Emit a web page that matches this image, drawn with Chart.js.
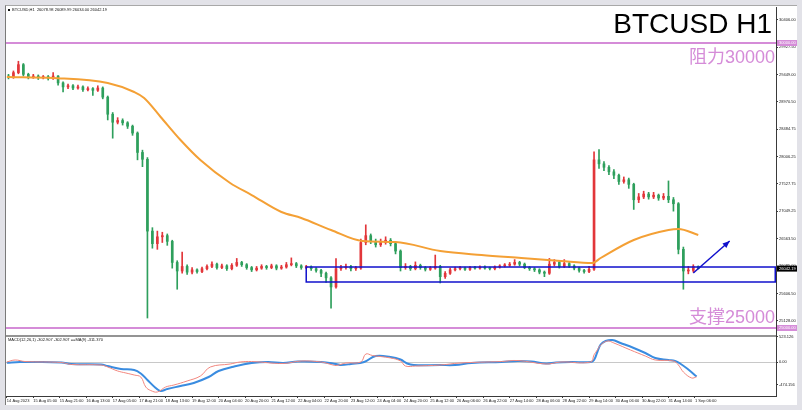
<!DOCTYPE html>
<html>
<head>
<meta charset="utf-8">
<title>BTCUSD H1</title>
<script src="https://cdn.jsdelivr.net/npm/chart.js@4.4.0/dist/chart.umd.min.js"></script>
<style>
  html, body { margin: 0; padding: 0; }
  body { width: 802px; height: 410px; background: #e2e2e8; position: relative; overflow: hidden; }
  #frame { position: absolute; left: 5px; top: 5px; width: 791px; height: 399px; background: #fff;
           border-left: 1px solid #7a7a7a; border-top: 1px solid #a8a8a8; }
  #btcChart { position: absolute; left: 0; top: 0; }
</style>
</head>
<body>
<div id="frame"></div>
<canvas id="btcChart" width="802" height="410"></canvas>
<script>
/* ==========================================================
   BTCUSD H1 – candles, MA, MACD pane, support / resistance
========================================================== */

/* ---------- candles (3h buckets) ---------- */
const opens = [
  29420, 29400, 29480, 29620, 29450, 29400, 29420, 29390, 29410, 29380,
  29420, 29300, 29230, 29250, 29210, 29230, 29180, 29200, 29170, 29210,
  29050, 28750, 28610, 28640, 28600, 28540, 28420, 28080, 27960, 26700,
  26480, 26600, 26620, 26520, 26150, 26000, 26080, 25980, 26020, 25990,
  26040, 26080, 26120, 26060, 26090, 26040, 26100, 26150, 26110, 26060,
  26020, 26050, 26080, 26060, 26090, 26050, 26070, 26110, 26130, 26090,
  26060, 26070, 26040, 26010, 25960, 25880, 25720, 26040, 26060, 26080,
  26040, 26050, 26500, 26620, 26520, 26460, 26500, 26540, 26480, 26350,
  26060, 26080, 26040, 26100, 26060, 26030, 26050, 26080, 25900, 25960,
  26020, 26040, 26050, 26030, 26060, 26050, 26070, 26050, 26040, 26070,
  26090, 26100, 26120, 26150, 26120, 26060, 26040, 26020, 25980, 25960,
  26120, 26150, 26080, 26130, 26090, 26050, 26010, 25990, 26030, 27950,
  27880, 27820, 27740, 27680, 27570, 27600, 27520, 27250, 27300, 27350,
  27300, 27330, 27280, 27310, 27250, 27180, 26380, 26000, 26010, 26078.98
];
const highs = [
  29450, 29510, 29680, 29640, 29470, 29450, 29440, 29430, 29430, 29480,
  29430, 29320, 29280, 29270, 29260, 29250, 29230, 29220, 29250, 29230,
  29070, 28780, 28690, 28670, 28620, 28560, 28440, 28120, 27990, 26760,
  26700, 26680, 26650, 26540, 26180, 26330, 26110, 26060, 26040, 26070,
  26110, 26160, 26140, 26120, 26110, 26130, 26220, 26170, 26130, 26080,
  26080, 26110, 26100, 26120, 26110, 26100, 26150, 26230, 26150, 26110,
  26100, 26090, 26060, 26030, 25980, 25900, 26220, 26100, 26120, 26100,
  26080, 26560, 26810, 26650, 26560, 26560, 26600, 26570, 26500, 26370,
  26130, 26100, 26160, 26120, 26080, 26080, 26280, 26100, 25990, 26050,
  26070, 26080, 26070, 26080, 26080, 26090, 26090, 26070, 26090, 26110,
  26130, 26150, 26200, 26170, 26140, 26080, 26060, 26040, 26000, 26220,
  26200, 26170, 26200, 26150, 26110, 26070, 26030, 26080, 28090, 28130,
  27920, 27850, 27780, 27700, 27650, 27630, 27540, 27360, 27400, 27380,
  27380, 27350, 27360, 27580, 27290, 27200, 26420, 26080, 26110, 26089.99
];
const lows = [
  29370, 29380, 29460, 29420, 29370, 29380, 29360, 29370, 29350, 29360,
  29260, 29140, 29200, 29180, 29190, 29150, 29160, 29080, 29150, 29020,
  28650, 28330, 28580, 28560, 28500, 28380, 27950, 27830, 25175, 26400,
  26380, 26500, 26450, 26050, 25680, 25960, 25940, 25950, 25960, 25970,
  26020, 26060, 26030, 26040, 26010, 26020, 26080, 26080, 26030, 25990,
  26000, 26030, 26030, 26040, 26020, 26030, 26050, 26090, 26060, 26030,
  26040, 26010, 25980, 25900, 25800, 25350, 25700, 26010, 26030, 26000,
  26010, 26030, 26460, 26480, 26420, 26430, 26470, 26440, 26300, 26000,
  26030, 26010, 26020, 26030, 26000, 26010, 26030, 25790, 25870, 25940,
  26000, 26020, 26010, 26010, 26030, 26030, 26030, 26020, 26020, 26050,
  26070, 26080, 26100, 26090, 26040, 26010, 25990, 25950, 25900, 25940,
  26090, 26050, 26060, 26060, 26020, 25980, 25960, 25970, 26010, 27800,
  27760, 27690, 27620, 27520, 27540, 27450, 27080, 27200, 27270, 27260,
  27270, 27240, 27250, 27200, 27050, 26300, 25680, 25950, 25980, 26034.00
];
const closes = [
  29400, 29480, 29620, 29450, 29400, 29420, 29390, 29410, 29380, 29420,
  29300, 29230, 29250, 29210, 29230, 29180, 29200, 29170, 29210, 29050,
  28750, 28610, 28640, 28600, 28540, 28420, 28080, 27960, 26700, 26480,
  26600, 26620, 26520, 26150, 26000, 26080, 25980, 26020, 25990, 26040,
  26080, 26120, 26060, 26090, 26040, 26100, 26150, 26110, 26060, 26020,
  26050, 26080, 26060, 26090, 26050, 26070, 26110, 26130, 26090, 26060,
  26070, 26040, 26010, 25960, 25880, 25720, 26040, 26060, 26080, 26040,
  26050, 26500, 26620, 26520, 26460, 26500, 26540, 26480, 26350, 26060,
  26080, 26040, 26100, 26060, 26030, 26050, 26080, 25900, 25960, 26020,
  26040, 26050, 26030, 26060, 26050, 26070, 26050, 26040, 26070, 26090,
  26100, 26120, 26150, 26120, 26060, 26040, 26020, 25980, 25960, 26120,
  26150, 26080, 26130, 26090, 26050, 26010, 25990, 26030, 27950, 27880,
  27820, 27740, 27680, 27570, 27600, 27520, 27250, 27300, 27350, 27300,
  27330, 27280, 27310, 27250, 27180, 26380, 26000, 26010, 26079, 26042.19
];
const CANDLE_STEP = 3;                       // H1 bars per drawn candle
const candleHour  = closes.map((_, i) => i * CANDLE_STEP + 1);

/* ---------- moving average (orange) ---------- */
const maHours  = [0, 28, 61, 77, 83, 93, 105, 117, 135, 148, 166, 178, 196,
                  215, 235, 262, 287, 311, 335, 354, 359, 379, 400, 406, 418];
const maValues = [29404, 29386, 29298, 29140, 29035, 28702, 28298, 27947, 27544,
                  27333, 27035, 26930, 26719, 26526, 26509, 26351, 26281, 26228,
                  26175, 26140, 26228, 26544, 26719, 26737, 26632];

/* ---------- MACD pane ---------- */
const macdHours  = [0, 8, 16, 33, 39, 57, 61, 69, 77, 81, 85, 90, 93, 97, 105, 113,
                    122, 128, 137, 148, 158, 167, 176, 190, 199, 202, 208, 216, 223,
                    232, 238, 242, 246, 262, 271, 281, 299, 309, 317, 326, 332, 341,
                    353, 355, 357, 359, 362, 366, 371, 379, 386, 392, 400, 404, 407,
                    412, 417];
const macdValues = [-15, 0, 0, -10, -42, -52, -84, -146, -167, -240, -376, -543, -606,
                    -564, -502, -439, -314, -188, -98, -21, 0, -21, 10, 0, -42, -63,
                    -42, 0, 125, 105, 52, -31, -63, -63, -63, -21, 0, 21, 10, -31, -10,
                    0, 0, 42, 209, 366, 439, 460, 397, 293, 188, 84, 42, 21, -31, -157,
                    -303];
const sigHours   = [0, 5, 11, 33, 39, 57, 61, 67, 72, 77, 81, 84, 87, 91, 96, 101, 109,
                    117, 123, 135, 141, 148, 167, 178, 190, 196, 199, 205, 214, 217, 221,
                    232, 238, 241, 247, 262, 274, 299, 309, 326, 335, 353, 355, 357, 359,
                    363, 367, 377, 386, 392, 403, 406, 409, 414, 417];
const sigValues  = [0, 42, 10, -10, -52, -63, -105, -188, -230, -272, -314, -523, -596,
                    -627, -523, -481, -397, -293, -105, -42, 0, 10, -31, 21, 0, -52, -73,
                    -21, 0, 167, 136, 84, 21, -84, -84, -63, -21, 10, 31, -42, 0, 0, 150,
                    251, 355, 439, 397, 251, 125, 42, 21, -63, -209, -334, -311];

/* ---------- axes ---------- */
const xTickLabels = ['14 Aug 2023', '15 Aug 05:00', '15 Aug 21:00', '16 Aug 13:00',
  '17 Aug 05:00', '17 Aug 21:00', '18 Aug 13:00', '19 Aug 12:00', '20 Aug 04:00',
  '20 Aug 20:00', '21 Aug 12:00', '22 Aug 04:00', '22 Aug 20:00', '23 Aug 12:00',
  '24 Aug 04:00', '24 Aug 20:00', '25 Aug 12:00', '26 Aug 06:00', '26 Aug 22:00',
  '27 Aug 14:00', '28 Aug 06:00', '28 Aug 22:00', '29 Aug 14:00', '30 Aug 06:00',
  '30 Aug 22:00', '31 Aug 14:00', '1 Sep 06:00'];
const xTickHours  = xTickLabels.map((_, i) => i * 16);
const priceTicks  = [30406.00, 30166.75, 29927.50, 29688.25, 29449.00, 29209.75,
  28970.50, 28731.25, 28484.75, 28245.00, 28006.25, 27767.00, 27527.75, 27288.50,
  27049.25, 26810.00, 26563.50, 26324.25, 26085.00, 25845.75, 25606.50, 25367.25,
  25128.00, 24888.75];
const macdTicks   = [523.126, 0, -474.156];

const PRICE_RANGE = [24859.6, 30631.6];
const MACD_RANGE  = [-710.6, 543.4];
const HOUR_RANGE  = [-0.5, 465];

/* ---------- annotations ---------- */
const levelValues = [30000, 25000];
const levelTexts  = ['阻力30000', '支撑25000'];
const zoneFrom    = 181;                 // hour where the box starts
const zoneTop     = 26070;
const zoneBottom  = 25807;
const arrowFrom   = [415, 25965];
const arrowTo     = [437, 26526];
const lastPrice   = 26042.19;
const infoText    = 'BTCUSD,H1  26078.98 26089.99 26034.00 26042.19';
const macdText    = 'MACD(12,26,1) -302.907 -302.907 ==MA(9) -311.370';

/* ---------- colours ---------- */
const COLORS = {
  up     : '#e2363a',
  down   : '#2e9f5c',
  ma     : '#f4a035',
  macd   : '#3a8ce0',
  signal : '#f2877f',
  level  : '#d58cd8',
  zone   : '#1010cc',
  axis   : '#3a3a3a'
};
const AXIS_FONT = { family: '"Liberation Sans", Arial, sans-serif', size: 4 };
const candleColor = i => (closes[i] >= opens[i] ? COLORS.up : COLORS.down);

/* ---------- overlay: levels, box, arrow, texts, price tags ---------- */
const overlay = {
  id: 'overlay',
  afterDatasetsDraw (chart) {
    const { ctx, chartArea: a, scales: { x, y, yMacd } } = chart;

    ctx.save();
    ctx.beginPath();
    ctx.rect(a.left, y.top, a.right - a.left, y.bottom - y.top);
    ctx.clip();

    // support / resistance lines
    ctx.strokeStyle = COLORS.level;
    ctx.lineWidth = 2;
    levelValues.forEach(v => {
      const py = y.getPixelForValue(v);
      ctx.beginPath(); ctx.moveTo(a.left, py); ctx.lineTo(a.right, py); ctx.stroke();
    });

    // consolidation box
    const bx = x.getPixelForValue(zoneFrom);
    const by = y.getPixelForValue(zoneTop);
    ctx.strokeStyle = COLORS.zone;
    ctx.lineWidth = 1.5;
    ctx.strokeRect(bx, by, a.right - 0.75 - bx, y.getPixelForValue(zoneBottom) - by);

    // arrow
    const x1 = x.getPixelForValue(arrowFrom[0]), y1 = y.getPixelForValue(arrowFrom[1]);
    const x2 = x.getPixelForValue(arrowTo[0]),   y2 = y.getPixelForValue(arrowTo[1]);
    const ang = Math.atan2(y2 - y1, x2 - x1);
    ctx.beginPath(); ctx.moveTo(x1, y1); ctx.lineTo(x2, y2); ctx.stroke();
    ctx.fillStyle = COLORS.zone;
    ctx.beginPath();
    ctx.moveTo(x2, y2);
    ctx.lineTo(x2 - 7 * Math.cos(ang) + 3 * Math.sin(ang), y2 - 7 * Math.sin(ang) - 3 * Math.cos(ang));
    ctx.lineTo(x2 - 7 * Math.cos(ang) - 3 * Math.sin(ang), y2 - 7 * Math.sin(ang) + 3 * Math.cos(ang));
    ctx.closePath(); ctx.fill();
    ctx.restore();

    // pane separator
    ctx.save();
    ctx.strokeStyle = '#707070';
    ctx.lineWidth = 1.5;
    ctx.beginPath(); ctx.moveTo(a.left, yMacd.top); ctx.lineTo(a.right, yMacd.top); ctx.stroke();

    // title + level captions
    ctx.textAlign = 'right';
    ctx.textBaseline = 'alphabetic';
    ctx.fillStyle = '#000';
    ctx.font = '28px "Liberation Sans", Arial, sans-serif';
    ctx.fillText('BTCUSD H1', a.right - 4, 33);
    ctx.fillStyle = COLORS.level;
    ctx.font = '18px "Liberation Sans", "Noto Sans CJK SC", sans-serif';
    levelTexts.forEach((t, i) => {
      const py = y.getPixelForValue(levelValues[i]);
      ctx.fillText(t, a.right - 1, i === 0 ? py + 20 : py - 5);
    });

    // small header texts
    ctx.textAlign = 'left';
    ctx.textBaseline = 'middle';
    ctx.fillStyle = '#111';
    ctx.font = '4px "Liberation Sans", Arial, sans-serif';
    ctx.fillRect(a.left + 2, 9, 2, 2);
    ctx.fillText(infoText, a.left + 6, 10);
    ctx.fillText(macdText, a.left + 2, yMacd.top + 4);
    ctx.restore();
  },
  afterDraw (chart) {
    const { ctx, chartArea: a, scales: { y } } = chart;
    const tag = (v, bg) => {
      const py = y.getPixelForValue(v);
      ctx.fillStyle = bg;
      ctx.fillRect(a.right + 1, py - 3, 20, 6);
      ctx.fillStyle = '#fff';
      ctx.fillText(v.toFixed(2), a.right + 3, py);
    };
    ctx.save();
    ctx.font = '4px "Liberation Sans", Arial, sans-serif';
    ctx.textAlign = 'left';
    ctx.textBaseline = 'middle';
    levelValues.forEach(v => tag(v, COLORS.level));
    tag(lastPrice, '#000');
    ctx.restore();
  }
};

/* ---------- chart ---------- */
new Chart(document.getElementById('btcChart'), {
  type: 'bar',
  data: {
    datasets: [
      { type: 'line', label: 'MA', yAxisID: 'y',
        data: maHours.map((h, i) => ({ x: h, y: maValues[i] })),
        borderColor: COLORS.ma, borderWidth: 2, pointRadius: 0,
        cubicInterpolationMode: 'monotone' },
      { type: 'line', label: 'Signal', yAxisID: 'yMacd',
        data: sigHours.map((h, i) => ({ x: h, y: sigValues[i] })),
        borderColor: COLORS.signal, borderWidth: 1, pointRadius: 0, tension: 0.4 },
      { type: 'line', label: 'MACD', yAxisID: 'yMacd',
        data: macdHours.map((h, i) => ({ x: h, y: macdValues[i] })),
        borderColor: COLORS.macd, borderWidth: 2, pointRadius: 0, tension: 0.4 },
      { label: 'Bodies', yAxisID: 'y', grouped: false,
        data: candleHour.map((h, i) => ({ x: h, y: [opens[i], closes[i]] })),
        backgroundColor: c => candleColor(c.dataIndex),
        barThickness: 2, minBarLength: 1 },
      { label: 'Wicks', yAxisID: 'y', grouped: false,
        data: candleHour.map((h, i) => ({ x: h, y: [lows[i], highs[i]] })),
        backgroundColor: c => candleColor(c.dataIndex),
        barThickness: 1 }
    ]
  },
  options: {
    responsive: false,
    animation: false,
    layout: { padding: { left: 6, top: 7, right: 5, bottom: 5 } },
    plugins: { legend: { display: false }, tooltip: { enabled: false } },
    scales: {
      x: {
        type: 'linear', position: 'bottom', offset: false,
        min: HOUR_RANGE[0], max: HOUR_RANGE[1],
        afterBuildTicks: s => { s.ticks = xTickHours.map(v => ({ value: v })); },
        afterFit: s => { s.height = 9; },
        ticks: { autoSkip: false, maxRotation: 0, align: 'start', padding: 0,
                 font: AXIS_FONT, color: '#222', callback: (v, i) => xTickLabels[i] },
        grid: { offset: false, drawOnChartArea: false, tickLength: 2, color: COLORS.axis },
        border: { display: true, color: COLORS.axis }
      },
      y: {
        type: 'linear', position: 'right', stack: 'pane', stackWeight: 329,
        min: PRICE_RANGE[0], max: PRICE_RANGE[1],
        afterBuildTicks: s => { s.ticks = priceTicks.map(v => ({ value: v })); },
        afterFit: s => { s.width = 21; },
        ticks: { font: AXIS_FONT, color: '#222', padding: 1, callback: v => v.toFixed(2) },
        grid: { drawOnChartArea: false, tickLength: 2, color: COLORS.axis },
        border: { display: true, color: COLORS.axis }
      },
      yMacd: {
        type: 'linear', position: 'right', stack: 'pane', stackWeight: 60,
        min: MACD_RANGE[0], max: MACD_RANGE[1],
        afterBuildTicks: s => { s.ticks = macdTicks.map(v => ({ value: v })); },
        afterFit: s => { s.width = 21; },
        ticks: { font: AXIS_FONT, color: '#222', padding: 1,
                 callback: v => (v === 0 ? '0.00' : v.toFixed(3)) },
        grid: { drawOnChartArea: true, tickLength: 2, tickColor: COLORS.axis,
                color: c => (c.tick && c.tick.value === 0 ? '#c8c8c8' : 'rgba(0,0,0,0)') },
        border: { display: true, color: COLORS.axis }
      }
    }
  },
  plugins: [overlay]
});
</script>
</body>
</html>
